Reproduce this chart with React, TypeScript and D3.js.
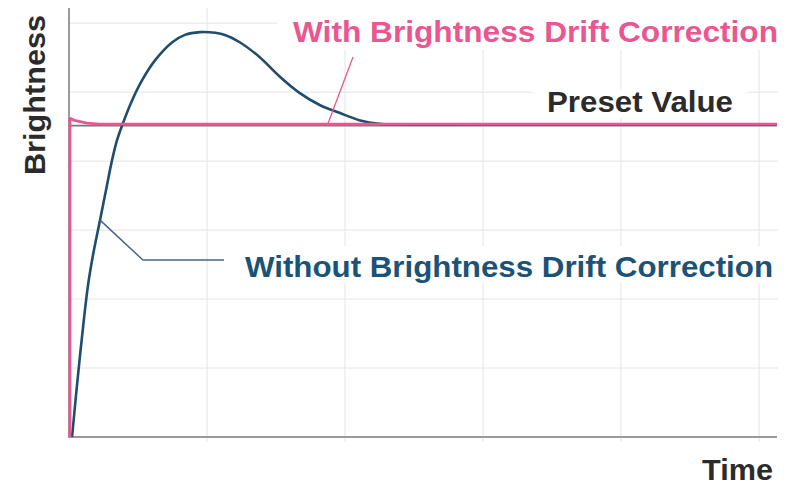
import React from "react";
import * as d3 from "d3";

// ---- data (time units, brightness units) ----
const xGridTicks = [1, 2, 3, 4, 5];
const yGridTicks = [1, 2, 3, 4, 5, 6];

const presetValue = 4.515;

const withoutTime = [0.022, 0.051, 0.08, 0.109, 0.138, 0.174, 0.225, 0.261, 0.312, 0.348, 0.391, 0.457, 0.529, 0.623, 0.746, 0.84, 0.95, 1.06, 1.13, 1.24, 1.38, 1.53, 1.67, 1.82, 1.96, 2.11, 2.25, 2.36, 3.0, 4.0, 5.13];
const withoutValue = [0.0, 0.609, 1.188, 1.725, 2.203, 2.638, 3.145, 3.507, 4.014, 4.304, 4.551, 4.88, 5.17, 5.46, 5.72, 5.83, 5.87, 5.86, 5.83, 5.72, 5.51, 5.22, 4.99, 4.81, 4.7, 4.59, 4.54, 4.53, 4.53, 4.53, 4.53];

const withTime = [0.007, 0.007, 0.04, 0.13, 0.22, 1.0, 3.0, 5.13];
const withValue = [0.0, 4.62, 4.59, 4.55, 4.535, 4.535, 4.535, 4.535];

const pinkLeader = [
  [2.058, 5.51],
  [1.877, 4.55],
];
const blueLeader = [
  [0.225, 3.145],
  [0.536, 2.565],
  [1.123, 2.565],
];

const labels = {
  withLabel: "With Brightness Drift Correction",
  withoutLabel: "Without Brightness Drift Correction",
  preset: "Preset Value",
  xTitle: "Time",
  yTitle: "Brightness",
};

const W = 792;
const H = 485;
const FONT = "'Liberation Sans', Arial, Helvetica, sans-serif";
const PINK = "#ea5690";
const BLUE_LINE = "#1f4d6e";
const BLUE_TEXT = "#1b5378";
const DARK = "#2b2b2b";

export default function App() {
  const x = d3.scaleLinear().domain([0, 5.13]).range([69, 777]);
  const y = d3.scaleLinear().domain([0, 6.22]).range([437, 8]);

  const line = d3
    .line<[number, number]>()
    .x((d) => x(d[0]))
    .y((d) => y(d[1]));
  const smooth = d3
    .line<[number, number]>()
    .x((d) => x(d[0]))
    .y((d) => y(d[1]))
    .curve(d3.curveCatmullRom.alpha(0.5));

  const withoutPts = withoutTime.map((t, i) => [t, withoutValue[i]] as [number, number]);
  const withPts = withTime.map((t, i) => [t, withValue[i]] as [number, number]);

  return (
    <svg
      width={W}
      height={H}
      viewBox={`0 0 ${W} ${H}`}
      style={{ position: "absolute", left: 0, top: 0, background: "#fff" }}
    >
      <rect x={0} y={0} width={W} height={H} fill="#fff" />
      {/* grid */}
      <g stroke="#e4e4e6" strokeWidth={1}>
        {xGridTicks.map((t) => (
          <line key={"gx" + t} x1={x(t)} x2={x(t)} y1={y(6.22)} y2={y(0) + 5} />
        ))}
        {yGridTicks.map((t) => (
          <line key={"gy" + t} x1={x(0)} x2={x(5.13) + 1} y1={y(t)} y2={y(t)} />
        ))}
      </g>
      {/* label backgrounds */}
      <rect x={277} y={0} width={515} height={50} fill="#fff" />
      <rect x={533} y={89} width={214} height={29} fill="#fff" />
      <rect x={235} y={246} width={545} height={37} fill="#fff" />

      {/* axes */}
      <line x1={x(0)} x2={x(0)} y1={y(6.22)} y2={y(0) + 1} stroke="#9a9a9a" strokeWidth={2} />
      <line x1={x(0) - 1} x2={x(5.13)} y1={y(0)} y2={y(0)} stroke="#9a9a9a" strokeWidth={2} />

      {/* preset line */}
      <line
        x1={x(0)}
        x2={x(5.13)}
        y1={y(presetValue)}
        y2={y(presetValue)}
        stroke="#77777c"
        strokeWidth={1.8}
      />

      {/* without correction (blue) */}
      <path d={smooth(withoutPts) || ""} fill="none" stroke={BLUE_LINE} strokeWidth={2.6} strokeLinejoin="round" />

      {/* with correction (pink) */}
      <path d={line(withPts) || ""} fill="none" stroke={PINK} strokeWidth={2.8} strokeLinejoin="round" />

      {/* leaders */}
      <path d={line(pinkLeader as [number, number][]) || ""} fill="none" stroke={PINK} strokeWidth={1.3} />
      <path d={line(blueLeader as [number, number][]) || ""} fill="none" stroke="#4a6585" strokeWidth={1.5} />

      {/* texts */}
      <g fontFamily={FONT} fontWeight="bold" fontSize={30}>
        <text x={293} y={42} fill={PINK} textLength={485} lengthAdjust="spacingAndGlyphs">
          {labels.withLabel}
        </text>
        <text x={245} y={277} fill={BLUE_TEXT} textLength={528} lengthAdjust="spacingAndGlyphs">
          {labels.withoutLabel}
        </text>
        <text x={547} y={112} fill={DARK} textLength={186} lengthAdjust="spacingAndGlyphs">
          {labels.preset}
        </text>
        <text x={702} y={480} fill={DARK} textLength={71} lengthAdjust="spacingAndGlyphs">
          {labels.xTitle}
        </text>
        <text
          transform="translate(45,175) rotate(-90)"
          x={0}
          y={0}
          fill={DARK}
          textLength={160}
          lengthAdjust="spacingAndGlyphs"
        >
          {labels.yTitle}
        </text>
      </g>
    </svg>
  );
}
